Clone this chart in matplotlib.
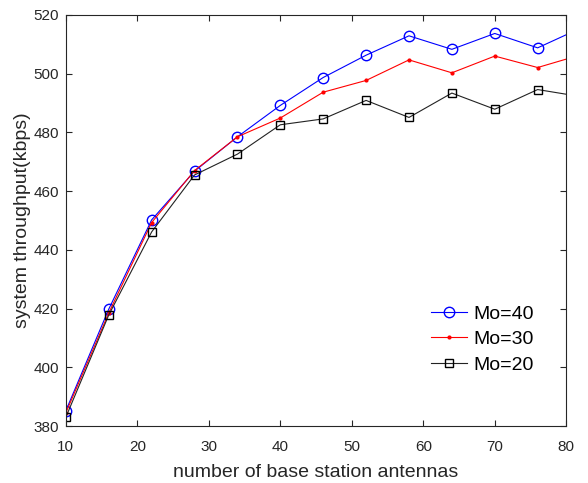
import numpy as np
import matplotlib.pyplot as plt

plt.rcParams['font.family'] = ['Liberation Sans', 'DejaVu Sans']

# number of base station antennas (last point lies past the axis and gets clipped)
antennas = [10, 16, 22, 28, 34, 40, 46, 52, 58, 64, 70, 76, 82]

mo40 = [385.2, 419.8, 450.2, 466.8, 478.5, 489.2, 498.7, 506.3, 512.9, 508.3, 513.7, 508.8, 515.5]
mo30 = [384.5, 418.5, 449.3, 467.0, 478.5, 484.9, 493.7, 497.7, 504.7, 500.3, 506.0, 502.1, 506.4]
mo20 = [383.0, 417.8, 446.1, 465.5, 472.6, 482.6, 484.6, 490.9, 485.1, 493.4, 487.9, 494.6, 492.2]

x_ticks = [10, 20, 30, 40, 50, 60, 70, 80]
y_ticks = [380, 400, 420, 440, 460, 480, 500, 520]

fig = plt.figure(figsize=(5.88, 4.83), dpi=100)
ax = fig.add_axes([0.112, 0.118, 0.851, 0.851])

ax.plot(antennas, mo40, color='blue', lw=0.8, marker='o', ms=7.5,
        mfc='none', mec='blue', mew=1.0, label='Mo=40')
ax.plot(antennas, mo30, color='red', lw=0.8, marker='.', ms=4,
        mfc='red', mec='red', label='Mo=30')
ax.plot(antennas, mo20, color='#222222', lw=0.8, marker='s', ms=6,
        mfc='none', mec='black', mew=1.0, label='Mo=20')

ax.set_xlim(10, 80)
ax.set_ylim(380, 520)
ax.set_xticks(x_ticks)
ax.set_yticks(y_ticks)
ax.tick_params(direction='in', top=True, right=True, length=4, width=0.8,
               labelsize=11, colors='#262626')
ax.tick_params(axis='x', pad=10)
ax.tick_params(axis='y', pad=5)
for sp in ax.spines.values():
    sp.set_color('#262626')
    sp.set_linewidth(0.8)

ax.set_xlabel('number of base station antennas', fontsize=14, color='#262626', labelpad=7)
ax.set_ylabel('system throughput(kbps)', fontsize=14, color='#262626', labelpad=2)

ax.legend(loc='lower right', bbox_to_anchor=(0.97, 0.085), frameon=False,
          fontsize=14, handlelength=1.85, handletextpad=0.3, labelspacing=0.4)

fig.savefig('out.png', dpi=100)
